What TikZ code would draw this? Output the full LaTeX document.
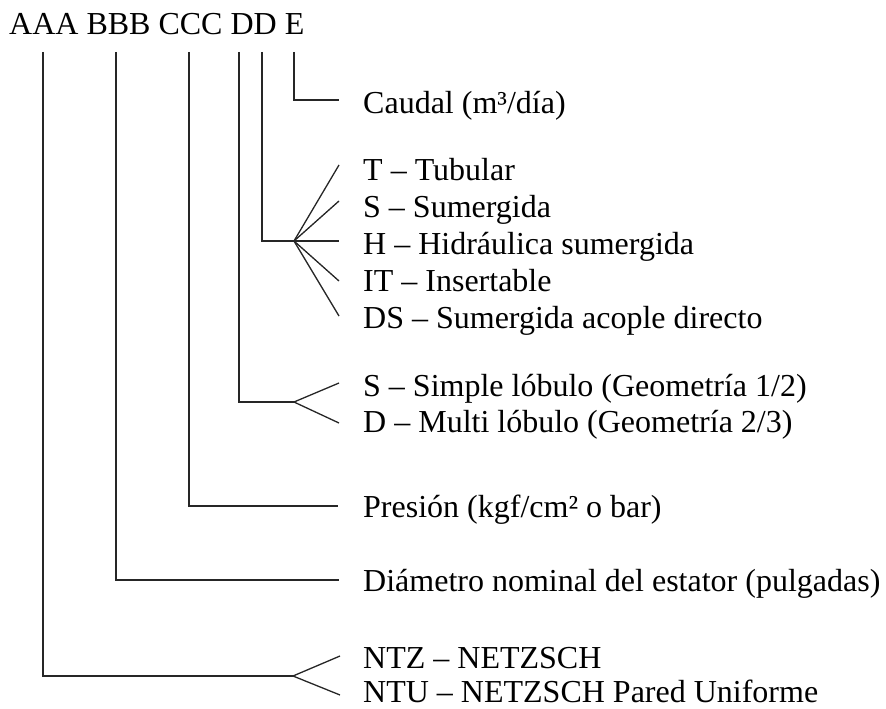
\documentclass[tikz,border=0pt]{standalone}
\usepackage{fontspec}
\setmainfont{Liberation Serif}
\begin{document}
\begin{tikzpicture}[x=1pt,y=-1pt,
  txt/.style={anchor=base west, inner sep=0pt, font=\fontsize{32}{37}\selectfont},
  conn/.style={draw=black!85, line width=1.3pt}]
\useasboundingbox (0,0) rectangle (886,709);
\node[txt] (hdr) at (9,35) {AAA BBB CCC DD E};
% tops of code lines
\coordinate (tA) at (43,52);
\coordinate (tB) at (116,52);
\coordinate (tC) at (189,52);
\coordinate (tD1) at (239,52);
\coordinate (tD2) at (262,52);
\coordinate (tE) at (294,52);
% labels
\node[txt] (lE) at (363,113) {Caudal (m³/día)};
\node[txt] (lT) at (363,180) {T – Tubular};
\node[txt] (lS) at (363,217) {S – Sumergida};
\node[txt] (lH) at (363,254) {H – Hidráulica sumergida};
\node[txt] (lIT) at (363,291) {IT – Insertable};
\node[txt] (lDS) at (363,328) {DS – Sumergida acople directo};
\node[txt] (lS1) at (363,396) {S – Simple lóbulo (Geometría 1/2)};
\node[txt] (lD1) at (363,432) {D – Multi lóbulo (Geometría 2/3)};
\node[txt] (lP) at (363,517) {Presión (kgf/cm² o bar)};
\node[txt] (lDi) at (363,591) {Diámetro nominal del estator (pulgadas)};
\node[txt] (lZ) at (363,668) {NTZ – NETZSCH};
\node[txt, text depth=0pt] (lU) at (363,702) {NTU – NETZSCH Pared Uniforme};
% E
\coordinate (eE) at (339,100);
\draw[conn] (tE) |- (eE);
% D2 fan
\coordinate (pD2) at (294,241);
\coordinate (fT) at (339,165);
\coordinate (fS) at (339,201);
\coordinate (fH) at (339,241);
\coordinate (fIT) at (339,281);
\coordinate (fDS) at (339,316);
\draw[conn] (tD2) |- (pD2);
\foreach \f in {fT,fS,fH,fIT,fDS} \draw[conn] (pD2) -- (\f);
% D1 fan
\coordinate (pD1) at (294,402);
\coordinate (fS1) at (339,383);
\coordinate (fD1) at (339,423);
\draw[conn] (tD1) |- (pD1);
\draw[conn] (pD1) -- (fS1);
\draw[conn] (pD1) -- (fD1);
% C
\coordinate (eC) at (338,506);
\draw[conn] (tC) |- (eC);
% B
\coordinate (eB) at (339,580);
\draw[conn] (tB) |- (eB);
% A fan
\coordinate (pA) at (293,676);
\coordinate (fZ) at (340,656);
\coordinate (fU) at (340,695);
\draw[conn] (tA) |- (pA);
\draw[conn] (pA) -- (fZ);
\draw[conn] (pA) -- (fU);
\end{tikzpicture}
\end{document}
